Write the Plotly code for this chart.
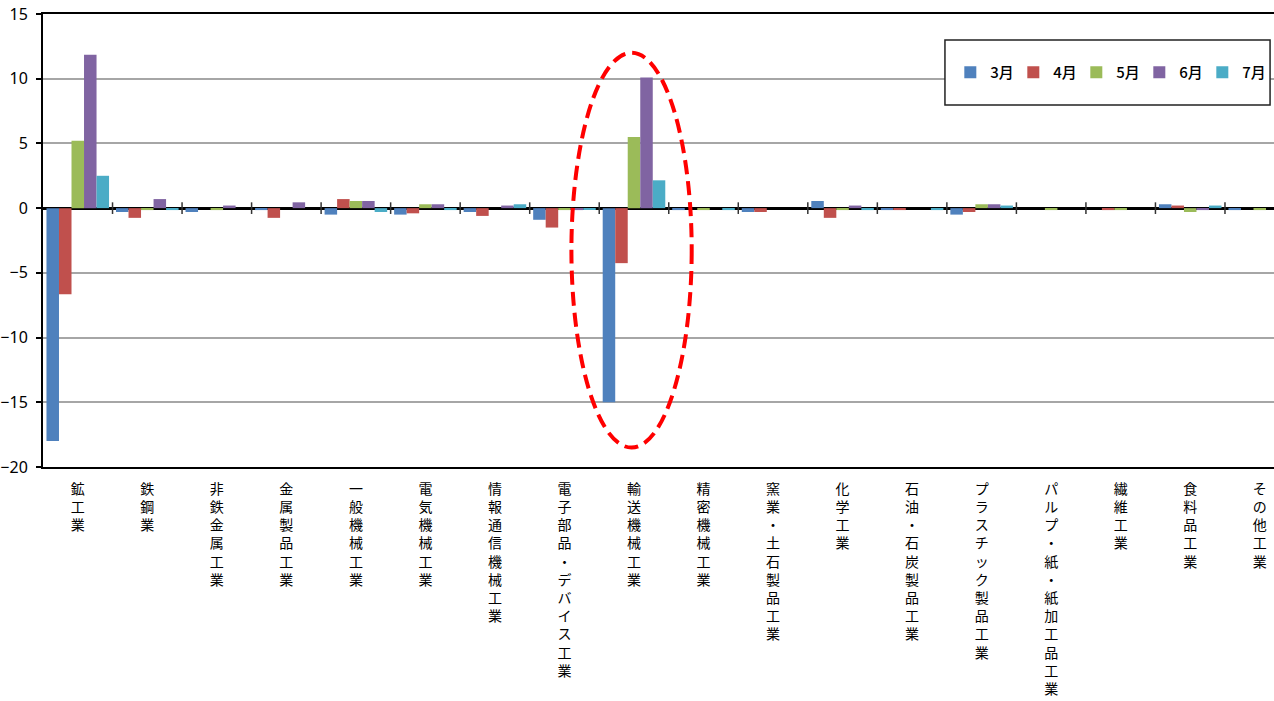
import plotly.graph_objects as go

categories = ["鉱工業", "鉄鋼業", "非鉄金属工業", "金属製品工業", "一般機械工業", "電気機械工業",
              "情報通信機械工業", "電子部品・デバイス工業", "輸送機械工業", "精密機械工業",
              "窯業・土石製品工業", "化学工業", "石油・石炭製品工業", "プラスチック製品工業",
              "パルプ・紙・紙加工品工業", "繊維工業", "食料品工業", "その他工業"]

series_names = ["3月", "4月", "5月", "6月", "7月"]
mar = [-18.0, -0.3, -0.3, -0.15, -0.5, -0.5, -0.3, -0.9, -15.0, -0.15, -0.3, 0.55, -0.15, -0.5, 0.0, 0.0, 0.3, -0.15]
apr = [-6.65, -0.75, 0.0, -0.75, 0.7, -0.4, -0.6, -1.5, -4.25, 0.0, -0.3, -0.75, -0.15, -0.3, 0.0, -0.15, 0.2, 0.0]
may = [5.2, -0.15, -0.15, 0.0, 0.55, 0.3, 0.0, -0.15, 5.5, -0.15, 0.0, -0.15, 0.0, 0.3, -0.15, -0.15, -0.3, -0.15]
jun = [11.85, 0.7, 0.2, 0.45, 0.55, 0.3, 0.2, -0.15, 10.1, 0.0, 0.0, 0.2, 0.0, 0.3, 0.0, 0.0, -0.15, 0.0]
jul = [2.5, -0.15, 0.0, 0.0, -0.3, -0.15, 0.3, -0.1, 2.15, -0.15, 0.0, -0.15, -0.15, 0.2, 0.0, 0.0, 0.2, 0.0]
series_values = [mar, apr, may, jun, jul]
colors = ["#4F81BD", "#C0504D", "#9BBB59", "#8064A2", "#4BACC6"]

y_ticks = [-20, -15, -10, -5, 0, 5, 10, 15]

vertical_labels = ["<br>".join(list(c)) for c in categories]

fig = go.Figure()
for name, vals, col in zip(series_names, series_values, colors):
    fig.add_trace(go.Bar(x=categories, y=vals, name=name,
                         marker=dict(color=col, line=dict(width=0))))

# tick marks crossing zero line at category boundaries
shapes = []
for i in range(len(categories) - 1):
    shapes.append(dict(type="line", xref="x", yref="y", x0=i + 0.5, x1=i + 0.5,
                       y0=-0.45, y1=0.45, line=dict(color="#333333", width=1.5)))

# highlight ellipse around 輸送機械工業
hi = categories.index("輸送機械工業")
shapes.append(dict(type="circle", xref="x", yref="y", x0=hi - 0.9, x1=hi + 0.83,
                   y0=-18.5, y1=12.0, line=dict(color="#FF0000", width=4, dash="14px,7px"),
                   layer="above"))

# legend frame
shapes.append(dict(type="rect", xref="paper", yref="paper", x0=0.7327, x1=0.9968,
                   y0=0.799, y1=0.9426, fillcolor="white",
                   line=dict(color="#222222", width=1.5), layer="above"))

fig.update_layout(
    width=1274, height=701,
    margin=dict(l=43, r=0, t=14, b=234, autoexpand=False),
    paper_bgcolor="white", plot_bgcolor="white",
    barmode="group", bargap=0.1, bargroupgap=0,
    showlegend=True,
    legend=dict(orientation="h", x=0.865, y=0.871, xanchor="center", yanchor="middle",
                bgcolor="rgba(0,0,0,0)", borderwidth=0,
                font=dict(family="Noto Sans CJK JP", size=15, color="black", weight=500),
                entrywidth=18, itemclick=False),
    shapes=shapes,
    xaxis=dict(type="category", range=[-0.5, 17.205], tickvals=categories, ticktext=vertical_labels,
               showline=True, mirror=True, linecolor="black", linewidth=2,
               ticks="", showgrid=False, zeroline=False, automargin=False,
               tickangle=0, ticklabelstandoff=8,
               tickfont=dict(family="Noto Sans CJK JP", size=14, color="black")),
    yaxis=dict(range=[-20, 15], tickvals=y_ticks, showline=True, linecolor="black", linewidth=2,
               ticks="outside", ticklen=5, tickcolor="black", tickwidth=1.5,
               showgrid=True, gridcolor="#A6A6A6", gridwidth=1.5,
               zeroline=True, zerolinecolor="black", zerolinewidth=3,
               automargin=False, ticklabelstandoff=5,
               tickfont=dict(family="Liberation Sans Narrow, Noto Sans", size=16, color="black")),
)

fig.write_html("out.html", config={"displayModeBar": False},
               post_script="document.body.style.margin='0';document.body.style.overflow='hidden';")
